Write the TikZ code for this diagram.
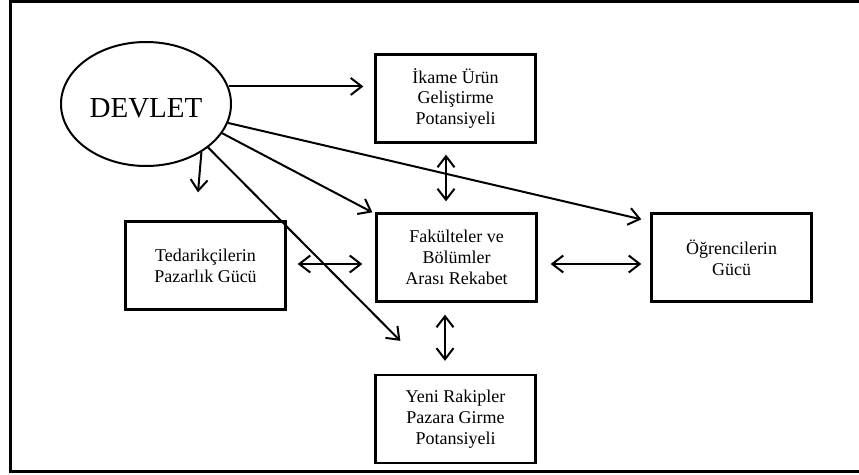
\documentclass[tikz,border=0pt]{standalone}
\usepackage{fontspec}
\setmainfont{Liberation Serif}
\usetikzlibrary{arrows.meta,shapes.geometric,calc}

\begin{document}
\begin{tikzpicture}[x=1pt,y=-1pt,
  box/.style={draw, line width=2.3pt, inner sep=0pt, align=center,
    minimum width=160pt, minimum height=88pt,
    font=\fontsize{18}{20.7}\selectfont},
  tip/.tip={Straight Barb[length=11pt,width=17pt]},
  con/.style={line width=2pt, -tip},
  dbl/.style={line width=2pt, tip-tip}
]
\useasboundingbox (0,0) rectangle (859,474);
\clip (0,0) rectangle (859,474);

% outer frame
\draw[line width=3pt] (10,1) rectangle (880,471.5);

% actors
\node[ellipse, draw, line width=2pt, inner sep=0pt,
      minimum width=170pt, minimum height=124pt,
      font=\fontsize{29}{32}\selectfont] (devlet) at (146,104)
      {\raisebox{-13.6pt}[0pt][0pt]{DEVLET}};

\node[box] (ikame) at (455.5,98.5) {İkame Ürün\\Geliştirme\\Potansiyeli};
\node[box] (ted)   at (205.5,265.5) {Tedarikçilerin\\Pazarlık Gücü};
\node[box] (fak)   at (456.5,257.5) {Fakülteler ve\\Bölümler\\Arası Rekabet};
\node[box] (ogr)   at (731.5,257.5) {Öğrencilerin\\Gücü};
\node[box] (yeni)  at (455.5,419) {Yeni Rakipler\\Pazara Girme\\Potansiyeli};

% influence of the state
\draw[con, shorten >=11pt] (devlet.12) -- (ikame.west |- devlet.12);
\draw[con] (devlet.-13) -- ($(ogr.north west)+(-9,7)$);
\draw[con] (devlet.-21) -- ($(fak.north west)+(-3,0)$);
\draw[con] (devlet.-41) -- ($(ted.north)+(-7.5,-28)$);
\draw[con] (devlet.-35) -- ($(yeni.north west)+(26,-33)$);

% mutual forces around the rivalry
\draw[dbl] ($(ikame.south)+(-9.5,11)$) -- ($(fak.north)+(-10.5,-11)$);
\draw[dbl] ($(ted.east)+(11,-1.5)$) -- ($(fak.west)+(-13,6.5)$);
\draw[dbl] ($(fak.east)+(13,6.5)$) -- ($(ogr.west)+(-9,6.5)$);
\draw[dbl] ($(fak.south)+(-11.5,12)$) -- ($(yeni.north)+(-10.5,-13)$);
\end{tikzpicture}
\end{document}
